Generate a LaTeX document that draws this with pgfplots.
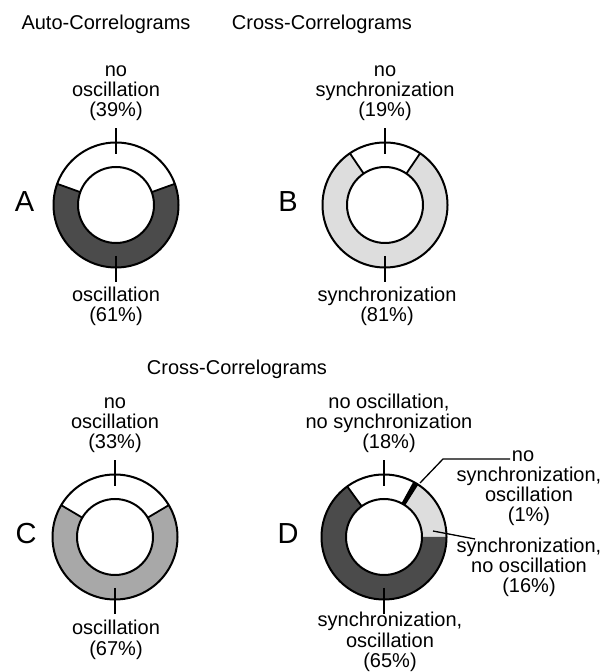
\documentclass[border=0pt]{standalone}
\usepackage{pgfplots}
\pgfplotsset{compat=1.18}
\usepackage{fontspec}
\setmainfont{Liberation Sans}
\definecolor{dk}{HTML}{4B4B4B}
\definecolor{lt}{HTML}{DDDDDD}
\definecolor{md}{HTML}{A8A8A8}
\newcommand{\Ro}{62.5bp}
\newcommand{\Ri}{38bp}
% annulus segment: cx, cy, start angle, end angle, colour
\newcommand{\seg}[5]{\fill[#5] (axis cs:#1,#2) ++({#3}:\Ro) arc[start angle={#3}, end angle={#4}, radius=\Ro] -- ++({#4+180}:24.5bp) arc[start angle={#4}, end angle={#3}, radius=\Ri] -- cycle;}
\newcommand{\rad}[3]{\draw[line width=1.8bp] (axis cs:#1,#2) ++({#3}:\Ri) -- ++({#3}:24.5bp);}
\newcommand{\rings}[2]{\draw[line width=2bp] (axis cs:#1,#2) circle[radius=\Ro]; \draw[line width=2bp] (axis cs:#1,#2) circle[radius=\Ri];}
\newcommand{\tick}[3]{\draw[line width=1.3bp] (axis cs:#1,#2) ++({#3}:51bp) -- ++({#3}:26bp);}
\newcommand{\txt}[3]{\node[anchor=base, inner sep=0pt, font=\fontsize{20bp}{20bp}\selectfont] at (axis cs:#1,#2) {#3};}
\newcommand{\letter}[3]{\node[anchor=base, inner sep=0pt, font=\fontsize{29bp}{29bp}\selectfont] at (axis cs:#1,#2) {#3};}
\begin{document}
\begin{tikzpicture}
\begin{axis}[width=611bp, height=672bp, scale only axis,
  xmin=0, xmax=611, ymin=0, ymax=672, hide axis, clip=false]
\path (axis cs:0,0) rectangle (axis cs:611,672);
% percentages: A 39/61, B 19/81, C 33/67, D 16/1/18/65
% ---- A ----
\seg{116}{467}{90-39*1.8}{90+39*1.8}{white}
\seg{116}{467}{90+39*1.8}{90+39*1.8+61*3.6}{dk}
\rad{116}{467}{90-39*1.8}
\rad{116}{467}{90+39*1.8}
\rings{116}{467}
\tick{116}{467}{90}
\tick{116}{467}{270}
% ---- B ----
\seg{385}{467}{90-19*1.8}{90+19*1.8}{white}
\seg{385}{467}{90+19*1.8}{90+19*1.8+81*3.6}{lt}
\rad{385}{467}{90-19*1.8}
\rad{385}{467}{90+19*1.8}
\rings{385}{467}
\tick{385}{467}{90}
\tick{385}{467}{270}
% ---- C ----
\seg{115}{135}{90-33*1.8}{90+33*1.8}{white}
\seg{115}{135}{90+33*1.8}{90+33*1.8+67*3.6}{md}
\rad{115}{135}{90-33*1.8}
\rad{115}{135}{90+33*1.8}
\rings{115}{135}
\tick{115}{135}{90}
\tick{115}{135}{270}
% ---- D ----
\seg{384}{135}{0}{16*3.6}{lt}
\seg{384}{135}{16*3.6}{17*3.6}{black}
\seg{384}{135}{17*3.6}{35*3.6}{white}
\seg{384}{135}{35*3.6}{360}{dk}
\rad{384}{135}{16*3.6}
\rad{384}{135}{17*3.6}
\rad{384}{135}{35*3.6}
\rings{384}{135}
\tick{384}{135}{90}
\tick{384}{135}{270}
\draw[line width=1.3bp] (axis cs:420,189) -- (axis cs:443,213) -- (axis cs:510,213);
\draw[line width=1.3bp] (axis cs:433,141) -- (axis cs:475,133);
% ---- titles ----
\txt{106}{642}{Auto-Correlograms}
\txt{322}{642}{Cross-Correlograms}
\txt{237}{297}{Cross-Correlograms}
% ---- letters ----
\letter{24.5}{460}{A}
\letter{288}{460}{B}
\letter{26}{128}{C}
\letter{288}{128}{D}
% ---- A labels ----
\txt{116}{595}{no}
\txt{116}{575}{oscillation}
\txt{116}{555}{(39\%)}
\txt{116}{370}{oscillation}
\txt{116}{350}{(61\%)}
% ---- B labels ----
\txt{385}{595}{no}
\txt{385}{575}{synchronization}
\txt{385}{555}{(19\%)}
\txt{387}{370}{synchronization}
\txt{387}{350}{(81\%)}
% ---- C labels ----
\txt{115}{263}{no}
\txt{115}{243}{oscillation}
\txt{115}{223}{(33\%)}
\txt{116}{37}{oscillation}
\txt{116}{17}{(67\%)}
% ---- D labels ----
\txt{389}{263}{no oscillation,}
\txt{389}{243}{no synchronization}
\txt{389}{223}{(18\%)}
\txt{523}{210}{no}
\txt{529}{190}{synchronization,}
\txt{529}{170}{oscillation}
\txt{529}{150}{(1\%)}
\txt{529}{119}{synchronization,}
\txt{529}{99}{no oscillation}
\txt{529}{79}{(16\%)}
\txt{390}{45}{synchronization,}
\txt{390}{25}{oscillation}
\txt{390}{5}{(65\%)}
\end{axis}
\end{tikzpicture}
\end{document}
